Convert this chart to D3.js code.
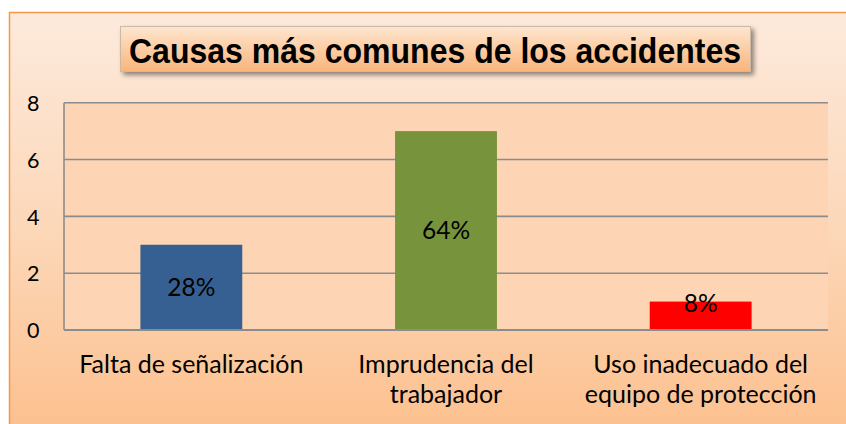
<!DOCTYPE html>
<html>
<head>
<meta charset="utf-8">
<script src="https://cdn.jsdelivr.net/npm/d3@7"></script>
<style>
  html, body { margin: 0; padding: 0; background: #ffffff; }
  svg { display: block; }
</style>
</head>
<body>
<svg id="chart" width="846" height="424"></svg>
<script>
const title = "Causas más comunes de los accidentes";
const categories = [
  ["Falta de señalización"],
  ["Imprudencia del", "trabajador"],
  ["Uso inadecuado del", "equipo de protección"]
];
const values = [3, 7, 1];
const percentLabels = ["28%", "64%", "8%"];
const barColors = ["#376092", "#77933c", "#ff0000"];
const yTicks = [0, 2, 4, 6, 8];

const svg = d3.select("#chart");
const defs = svg.append("defs");

const bg = defs.append("linearGradient").attr("id", "bg").attr("x1", 0).attr("y1", 0).attr("x2", 0).attr("y2", 1);
bg.append("stop").attr("offset", "0%").attr("stop-color", "#fdeadc");
bg.append("stop").attr("offset", "55%").attr("stop-color", "#fcd6b6");
bg.append("stop").attr("offset", "100%").attr("stop-color", "#fcc08e");

const tg = defs.append("linearGradient").attr("id", "tg").attr("x1", 0).attr("y1", 0).attr("x2", 0).attr("y2", 1);
tg.append("stop").attr("offset", "0%").attr("stop-color", "#fee6d0");
tg.append("stop").attr("offset", "50%").attr("stop-color", "#fccda4");
tg.append("stop").attr("offset", "100%").attr("stop-color", "#f9b57c");

const sh = defs.append("filter").attr("id", "shadow").attr("x", "-5%").attr("y", "-30%").attr("width", "115%").attr("height", "180%");
sh.append("feGaussianBlur").attr("in", "SourceAlpha").attr("stdDeviation", 2.5);
sh.append("feOffset").attr("dx", 3).attr("dy", 3).attr("result", "ob");
sh.append("feComponentTransfer").append("feFuncA").attr("type", "linear").attr("slope", 0.45);
const mg = sh.append("feMerge");
mg.append("feMergeNode");
mg.append("feMergeNode").attr("in", "SourceGraphic");

// Outer chart area
svg.append("rect").attr("x", 9.5).attr("y", 12.5).attr("width", 846).attr("height", 420)
  .attr("fill", "url(#bg)").attr("stroke", "#f79646").attr("stroke-width", 1.5);

const margin = { left: 64, right: 828, top: 102.7, bottom: 330 };

const x = d3.scaleBand().domain(d3.range(categories.length))
  .range([margin.left, margin.right]).paddingInner(0.6).paddingOuter(0.3);
const y = d3.scaleLinear().domain([0, 8]).range([margin.bottom, margin.top]);

// Plot area
svg.append("rect").attr("x", margin.left).attr("y", y(8)).attr("width", margin.right - margin.left)
  .attr("height", y(0) - y(8)).attr("fill", "#fdd5b4");

// gridlines
svg.append("g").selectAll("line").data(yTicks).join("line")
  .attr("x1", margin.left).attr("x2", margin.right)
  .attr("y1", d => y(d)).attr("y2", d => y(d))
  .attr("stroke", "#8c8c8c").attr("stroke-width", 1.6);

// left axis line
svg.append("line").attr("x1", margin.left).attr("x2", margin.left)
  .attr("y1", y(8)).attr("y2", y(0)).attr("stroke", "#8c8c8c").attr("stroke-width", 1.6);

// bars
svg.append("g").selectAll("rect").data(values).join("rect")
  .attr("x", (d, i) => x(i)).attr("width", x.bandwidth())
  .attr("y", d => y(d)).attr("height", d => y(0) - y(d))
  .attr("fill", (d, i) => barColors[i]);

// redraw baseline on top
svg.append("line").attr("x1", margin.left).attr("x2", margin.right)
  .attr("y1", y(0)).attr("y2", y(0)).attr("stroke", "#8c8c8c").attr("stroke-width", 1.8);

const fontFam = "Lato, 'Open Sans', sans-serif";

// y tick labels
const yAxis = d3.axisLeft(y).tickValues(yTicks).tickSize(0).tickPadding(0);
const ya = svg.append("g").attr("transform", "translate(39.5,0)").call(yAxis);
ya.select(".domain").remove();
ya.selectAll("text").attr("font-family", fontFam).attr("font-size", 21.5).attr("fill", "#000").attr("dy", "0.36em");

// data labels
svg.append("g").selectAll("text").data(values).join("text")
  .attr("x", (d, i) => x(i) + x.bandwidth() / 2)
  .attr("y", d => {
    const h = y(0) - y(d);
    return h < 34 ? y(d) + 1.5 : (y(d) + y(0)) / 2;
  })
  .attr("dy", "0.36em")
  .attr("text-anchor", "middle")
  .attr("font-family", fontFam).attr("font-size", 24.5).attr("fill", "#000")
  .text((d, i) => percentLabels[i]);

// category labels
const cat = svg.append("g").selectAll("text").data(categories).join("text")
  .attr("text-anchor", "middle")
  .attr("font-family", fontFam).attr("font-size", 25).attr("fill", "#000");
cat.each(function(lines, i) {
  const t = d3.select(this);
  lines.forEach((ln, j) => {
    t.append("tspan").attr("x", x(i) + x.bandwidth() / 2).attr("y", 373 + j * 30).text(ln);
  });
});

// title box
svg.append("rect").attr("x", 120.5).attr("y", 26.5).attr("width", 630).attr("height", 45)
  .attr("fill", "url(#tg)").attr("stroke", "#c9b9a6").attr("stroke-width", 1)
  .attr("filter", "url(#shadow)");
svg.append("text").attr("x", 435).attr("y", 63)
  .attr("text-anchor", "middle")
  .attr("font-family", "'Liberation Sans', Arial, sans-serif").attr("font-weight", "bold")
  .attr("font-size", 35).attr("fill", "#000")
  .attr("textLength", 612).attr("lengthAdjust", "spacingAndGlyphs")
  .text(title);
</script>
</body>
</html>
